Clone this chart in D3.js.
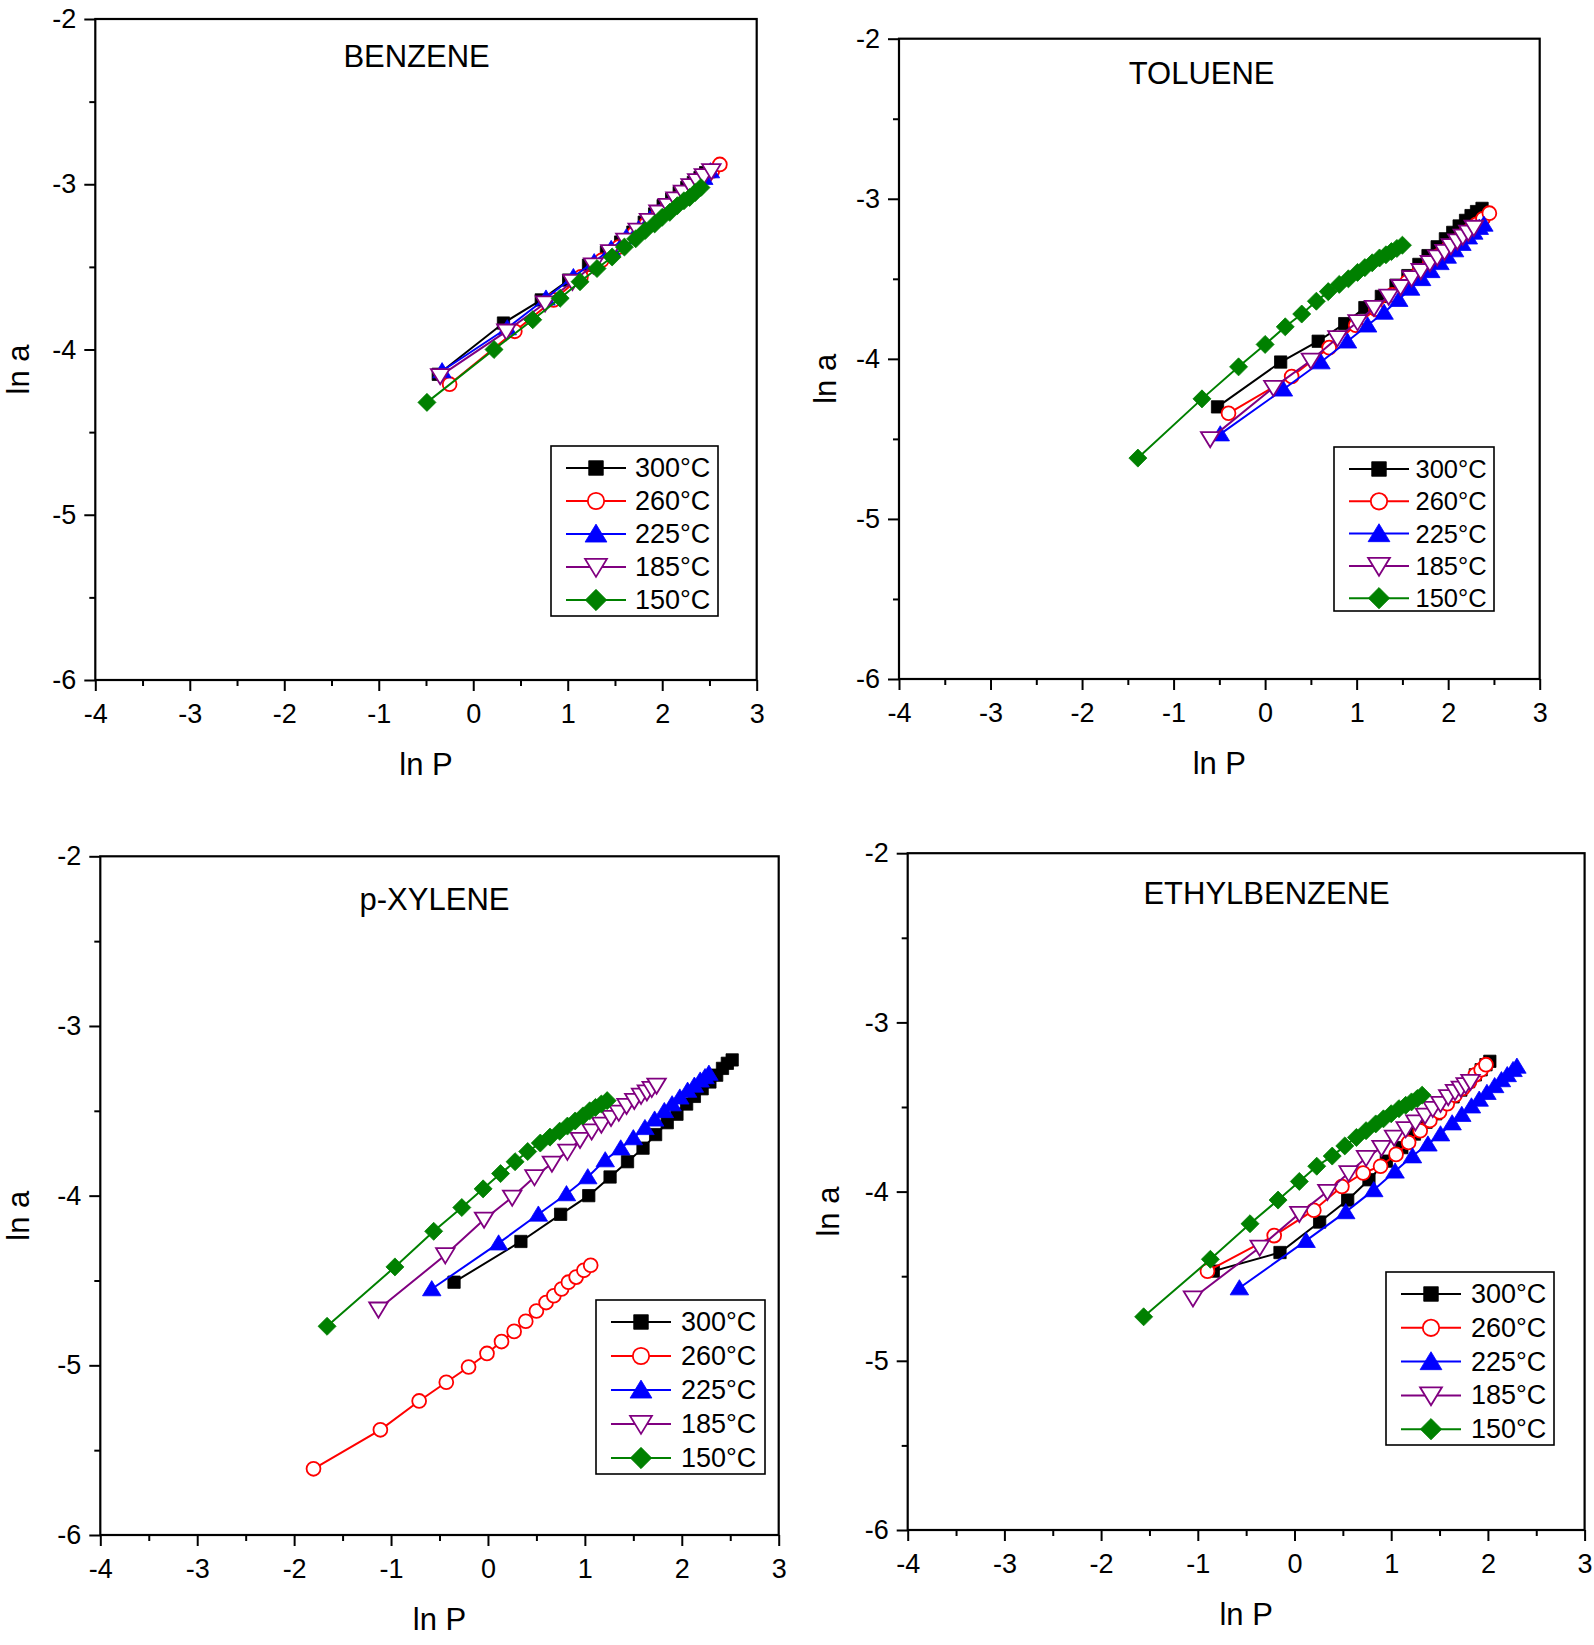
<!DOCTYPE html>
<html><head><meta charset="utf-8">
<script src="https://cdn.jsdelivr.net/npm/d3@7"></script>
<style>body{margin:0;background:#fff}</style>
</head><body><svg id="c" width="1594" height="1645"></svg>
<script>
// ---------------- DATA ----------------
const temperatures = ["300°C", "260°C", "225°C", "185°C", "150°C"];
const compounds = ["BENZENE", "TOLUENE", "p-XYLENE", "ETHYLBENZENE"];
const xTicks = [-4, -3, -2, -1, 0, 1, 2, 3];
const yTicks = [-6, -5, -4, -3, -2];

// each row: one temperature, in the order of `temperatures`
const benzeneLnP = [
  [-0.37,0.32,0.72,1.01,1.22,1.41,1.56,1.69,1.81,1.92,2.01,2.10,2.18,2.26,2.33,2.40,2.46],
  [-0.25,0.44,0.85,1.14,1.36,1.54,1.70,1.83,1.95,2.05,2.15,2.23,2.31,2.39,2.46,2.53,2.61],
  [-0.33,0.36,0.77,1.06,1.28,1.46,1.62,1.75,1.87,1.97,2.07,2.15,2.23,2.31,2.38,2.44,2.51],
  [-0.35,0.35,0.76,1.05,1.27,1.45,1.61,1.74,1.86,1.96,2.06,2.14,2.22,2.30,2.37,2.44,2.52],
  [-0.49,0.22,0.63,0.92,1.13,1.31,1.47,1.60,1.72,1.82,1.92,2.00,2.08,2.16,2.23,2.29,2.35,2.41]
];
const benzeneLnA = [
  [-4.15,-3.84,-3.70,-3.58,-3.49,-3.41,-3.35,-3.29,-3.23,-3.18,-3.13,-3.09,-3.05,-3.02,-2.99,-2.96,-2.93],
  [-4.21,-3.89,-3.70,-3.56,-3.46,-3.38,-3.30,-3.24,-3.19,-3.14,-3.09,-3.06,-3.02,-2.98,-2.95,-2.92,-2.88],
  [-4.13,-3.87,-3.69,-3.56,-3.47,-3.39,-3.32,-3.27,-3.21,-3.17,-3.13,-3.09,-3.06,-3.02,-2.99,-2.96,-2.92],
  [-4.16,-3.89,-3.72,-3.59,-3.49,-3.41,-3.34,-3.28,-3.22,-3.17,-3.13,-3.09,-3.05,-3.01,-2.98,-2.95,-2.92],
  [-4.32,-4.00,-3.82,-3.69,-3.59,-3.51,-3.44,-3.38,-3.33,-3.28,-3.24,-3.20,-3.17,-3.13,-3.10,-3.08,-3.05,-3.02]
];

const tolueneLnP = [
  [-0.52,0.17,0.58,0.87,1.09,1.27,1.43,1.56,1.68,1.78,1.88,1.97,2.05,2.12,2.19,2.25,2.31,2.37],
  [-0.40,0.29,0.70,0.99,1.21,1.39,1.55,1.68,1.80,1.90,2.00,2.09,2.16,2.24,2.31,2.38,2.45],
  [-0.49,0.20,0.61,0.90,1.12,1.30,1.46,1.59,1.71,1.81,1.91,1.99,2.07,2.15,2.22,2.28,2.34,2.39],
  [-0.60,0.09,0.50,0.79,1.01,1.19,1.35,1.48,1.60,1.70,1.80,1.88,1.96,2.03,2.10,2.16,2.22,2.28],
  [-1.39,-0.69,-0.29,0.00,0.22,0.40,0.56,0.69,0.81,0.91,1.01,1.09,1.17,1.25,1.32,1.38,1.44,1.50]
];
const tolueneLnA = [
  [-4.30,-4.02,-3.89,-3.78,-3.68,-3.61,-3.54,-3.48,-3.41,-3.355,-3.30,-3.25,-3.21,-3.17,-3.135,-3.105,-3.08,-3.06],
  [-4.34,-4.11,-3.93,-3.79,-3.69,-3.60,-3.52,-3.46,-3.405,-3.355,-3.31,-3.265,-3.23,-3.195,-3.16,-3.125,-3.09],
  [-4.47,-4.19,-4.02,-3.89,-3.79,-3.71,-3.63,-3.56,-3.50,-3.45,-3.40,-3.36,-3.32,-3.28,-3.24,-3.21,-3.18,-3.16],
  [-4.50,-4.18,-4.01,-3.87,-3.77,-3.68,-3.61,-3.55,-3.495,-3.45,-3.40,-3.365,-3.33,-3.295,-3.265,-3.235,-3.21,-3.18],
  [-4.62,-4.25,-4.05,-3.91,-3.80,-3.72,-3.64,-3.58,-3.535,-3.50,-3.46,-3.43,-3.40,-3.37,-3.35,-3.33,-3.31,-3.29]
];

const xyleneLnP = [
  [-0.35,0.34,0.75,1.04,1.26,1.44,1.60,1.73,1.85,1.95,2.05,2.13,2.21,2.29,2.36,2.42,2.47,2.52],
  [-1.80,-1.11,-0.71,-0.43,-0.20,-0.01,0.14,0.27,0.39,0.50,0.60,0.68,0.76,0.83,0.91,0.99,1.06],
  [-0.58,0.11,0.52,0.81,1.03,1.21,1.37,1.50,1.62,1.72,1.82,1.90,1.98,2.06,2.13,2.19,2.24,2.28],
  [-1.13,-0.44,-0.04,0.25,0.48,0.66,0.82,0.95,1.07,1.17,1.27,1.35,1.43,1.51,1.58,1.64,1.69,1.74],
  [-1.66,-0.96,-0.56,-0.27,-0.05,0.13,0.28,0.41,0.54,0.64,0.74,0.82,0.90,0.98,1.05,1.11,1.17,1.23]
];
const xyleneLnA = [
  [-4.51,-4.27,-4.11,-4.00,-3.89,-3.80,-3.72,-3.64,-3.57,-3.52,-3.46,-3.415,-3.37,-3.33,-3.29,-3.25,-3.22,-3.20],
  [-5.61,-5.38,-5.21,-5.10,-5.01,-4.93,-4.86,-4.80,-4.74,-4.68,-4.63,-4.59,-4.55,-4.51,-4.48,-4.44,-4.41],
  [-4.55,-4.28,-4.11,-3.99,-3.89,-3.79,-3.72,-3.66,-3.60,-3.55,-3.50,-3.46,-3.42,-3.38,-3.35,-3.32,-3.30,-3.28],
  [-4.67,-4.35,-4.14,-4.01,-3.89,-3.81,-3.74,-3.67,-3.62,-3.58,-3.54,-3.51,-3.47,-3.44,-3.41,-3.39,-3.37,-3.35],
  [-4.77,-4.42,-4.21,-4.07,-3.96,-3.87,-3.80,-3.74,-3.69,-3.655,-3.62,-3.59,-3.56,-3.53,-3.50,-3.48,-3.46,-3.44]
];

const ethylbenzeneLnP = [
  [-0.84,-0.15,0.26,0.55,0.77,0.95,1.11,1.24,1.36,1.46,1.56,1.64,1.72,1.80,1.87,1.93,1.98,2.02],
  [-0.90,-0.21,0.20,0.49,0.71,0.89,1.05,1.18,1.30,1.40,1.50,1.58,1.66,1.74,1.81,1.87,1.93,1.98],
  [-0.57,0.12,0.53,0.82,1.04,1.22,1.38,1.51,1.63,1.73,1.83,1.91,1.99,2.07,2.14,2.20,2.26,2.30],
  [-1.05,-0.36,0.05,0.34,0.56,0.74,0.90,1.03,1.15,1.25,1.35,1.43,1.51,1.59,1.66,1.72,1.77,1.82],
  [-1.56,-0.87,-0.46,-0.17,0.05,0.23,0.39,0.52,0.64,0.74,0.84,0.92,1.00,1.08,1.15,1.21,1.27,1.32]
];
const ethylbenzeneLnA = [
  [-4.47,-4.36,-4.18,-4.05,-3.93,-3.82,-3.74,-3.66,-3.59,-3.54,-3.48,-3.44,-3.40,-3.35,-3.31,-3.28,-3.25,-3.23],
  [-4.47,-4.26,-4.11,-3.97,-3.89,-3.85,-3.78,-3.71,-3.64,-3.58,-3.53,-3.48,-3.43,-3.39,-3.35,-3.31,-3.28,-3.25],
  [-4.57,-4.29,-4.12,-3.99,-3.88,-3.79,-3.72,-3.66,-3.595,-3.545,-3.495,-3.455,-3.415,-3.375,-3.34,-3.31,-3.28,-3.26],
  [-4.63,-4.33,-4.13,-4.00,-3.89,-3.80,-3.74,-3.68,-3.63,-3.59,-3.55,-3.51,-3.48,-3.44,-3.41,-3.39,-3.37,-3.35],
  [-4.74,-4.40,-4.19,-4.05,-3.94,-3.85,-3.79,-3.73,-3.68,-3.64,-3.60,-3.57,-3.54,-3.51,-3.49,-3.47,-3.45,-3.43]
];

const allLnP = [benzeneLnP, tolueneLnP, xyleneLnP, ethylbenzeneLnP];
const allLnA = [benzeneLnA, tolueneLnA, xyleneLnA, ethylbenzeneLnA];

// ---------------- STYLE / LAYOUT ----------------
const colors = ["#000000", "#ff0000", "#0000ff", "#800080", "#008000"];
const shapes = ["square", "circle", "triUp", "triDown", "diamond"];
const filled = [true, false, true, false, true];
const FONT = "'Liberation Sans', Arial, Helvetica, sans-serif";

const layouts = [
  {l: 95.3, r: 756.7, t: 19, b: 680, title: [416.6, 56.7], legend: [551, 446, 167, 170], lgFont: 27, lgStep: 33, lgText: 84, yl: -77},
  {l: 899, r: 1539.7, t: 38.7, b: 679, title: [1201.6, 73.5], legend: [1334, 447, 160, 164], lgFont: 25.5, lgStep: 32.3, lgText: 81.5, yl: -74},
  {l: 100.3, r: 778.7, t: 856.3, b: 1535, title: [434.5, 899], legend: [596, 1300, 169, 174], lgFont: 27, lgStep: 34, lgText: 85, yl: -82},
  {l: 907.7, r: 1584.6, t: 853.2, b: 1530, title: [1266.6, 893], legend: [1386, 1272, 168, 173], lgFont: 27, lgStep: 33.8, lgText: 85, yl: -79}
];

function markerPath(shape, k) {
  switch (shape) {
    case "square": { const s = 5.6 * k; return `M${-s},${-s}H${s}V${s}H${-s}Z`; }
    case "circle": { const r = 6.3 * k; return `M${-r},0A${r},${r} 0 1,0 ${r},0A${r},${r} 0 1,0 ${-r},0Z`; }
    case "triUp": { const w = 8.4 * k, a = 7.6 * k, c = 6.2 * k; return `M0,${-a}L${w},${c}L${-w},${c}Z`; }
    case "triDown": { const w = 8.4 * k, a = 7.6 * k, c = 6.2 * k; return `M0,${a}L${w},${-c}L${-w},${-c}Z`; }
    case "diamond": { const s = 8.2 * k; return `M0,${-s}L${s},0L0,${s}L${-s},0Z`; }
  }
}

const svg = d3.select("#c");

compounds.forEach((name, pi) => {
  const L = layouts[pi];
  const x = d3.scaleLinear().domain([-4, 3]).range([L.l, L.r]);
  const y = d3.scaleLinear().domain([-6, -2]).range([L.b, L.t]);
  const g = svg.append("g");

  // minor ticks
  const xMinor = d3.range(-3.5, 3, 1);
  const yMinor = d3.range(-5.5, -2, 1);
  g.append("g").attr("transform", `translate(0,${L.b})`)
    .call(d3.axisBottom(x).tickValues(xMinor).tickSize(6).tickFormat(""))
    .call(a => a.select(".domain").remove())
    .call(a => a.selectAll("line").attr("stroke-width", 2));
  g.append("g").attr("transform", `translate(${L.l},0)`)
    .call(d3.axisLeft(y).tickValues(yMinor).tickSize(6).tickFormat(""))
    .call(a => a.select(".domain").remove())
    .call(a => a.selectAll("line").attr("stroke-width", 2));

  // major ticks + labels
  g.append("g").attr("transform", `translate(0,${L.b})`)
    .call(d3.axisBottom(x).tickValues(xTicks).tickSize(11).tickPadding(13).tickFormat(d => String(d)))
    .call(a => a.select(".domain").remove())
    .call(a => a.selectAll("line").attr("stroke-width", 2))
    .call(a => a.selectAll("text").attr("font-size", 27).attr("font-family", FONT).attr("fill", "#000"));
  g.append("g").attr("transform", `translate(${L.l},0)`)
    .call(d3.axisLeft(y).tickValues(yTicks).tickSize(11).tickPadding(8).tickFormat(d => String(d)))
    .call(a => a.select(".domain").remove())
    .call(a => a.selectAll("line").attr("stroke-width", 2))
    .call(a => a.selectAll("text").attr("font-size", 27).attr("font-family", FONT).attr("fill", "#000"));

  // frame
  g.append("rect").attr("x", L.l).attr("y", L.t).attr("width", L.r - L.l).attr("height", L.b - L.t)
    .attr("fill", "none").attr("stroke", "#000").attr("stroke-width", 2.2);

  // axis titles
  g.append("text").attr("x", (L.l + L.r) / 2).attr("y", L.b + 84)
    .attr("text-anchor", "middle").attr("dominant-baseline", "central")
    .attr("font-family", FONT).attr("font-size", 31).text("ln P");
  const ycx = L.l + L.yl, ycy = (L.t + L.b) / 2 + 20;
  g.append("text").attr("transform", `translate(${ycx},${ycy}) rotate(-90)`)
    .attr("text-anchor", "middle").attr("dominant-baseline", "central")
    .attr("font-family", FONT).attr("font-size", 31).text("ln a");

  // panel title
  g.append("text").attr("x", L.title[0]).attr("y", L.title[1])
    .attr("text-anchor", "middle").attr("dominant-baseline", "central")
    .attr("font-family", FONT).attr("font-size", 31).text(name);

  // series
  const line = d3.line().x(d => x(d[0])).y(d => y(d[1]));
  temperatures.forEach((t, si) => {
    const pts = allLnP[pi][si].map((v, i) => [v, allLnA[pi][si][i]]);
    g.append("path").attr("d", line(pts)).attr("fill", "none")
      .attr("stroke", colors[si]).attr("stroke-width", 2);
    g.append("g").selectAll("path").data(pts).join("path")
      .attr("transform", d => `translate(${x(d[0])},${y(d[1])})`)
      .attr("d", markerPath(shapes[si], 1.1))
      .attr("fill", filled[si] ? colors[si] : "#fff")
      .attr("stroke", colors[si]).attr("stroke-width", filled[si] ? 0.8 : 1.8);
  });

  // legend
  const [lx, ly, lw, lh] = L.legend;
  const lg = g.append("g");
  lg.append("rect").attr("x", lx).attr("y", ly).attr("width", lw).attr("height", lh)
    .attr("fill", "#fff").attr("stroke", "#000").attr("stroke-width", 1.6);
  temperatures.forEach((t, si) => {
    const cy = ly + 22 + si * L.lgStep;
    lg.append("line").attr("x1", lx + 15).attr("x2", lx + 75).attr("y1", cy).attr("y2", cy)
      .attr("stroke", colors[si]).attr("stroke-width", 2);
    lg.append("path").attr("transform", `translate(${lx + 45},${cy})`)
      .attr("d", markerPath(shapes[si], 1.3))
      .attr("fill", filled[si] ? colors[si] : "#fff")
      .attr("stroke", colors[si]).attr("stroke-width", filled[si] ? 0.8 : 1.8);
    lg.append("text").attr("x", lx + L.lgText).attr("y", cy).attr("dominant-baseline", "central")
      .attr("font-family", FONT).attr("font-size", L.lgFont).text(t);
  });
});
</script></body></html>
